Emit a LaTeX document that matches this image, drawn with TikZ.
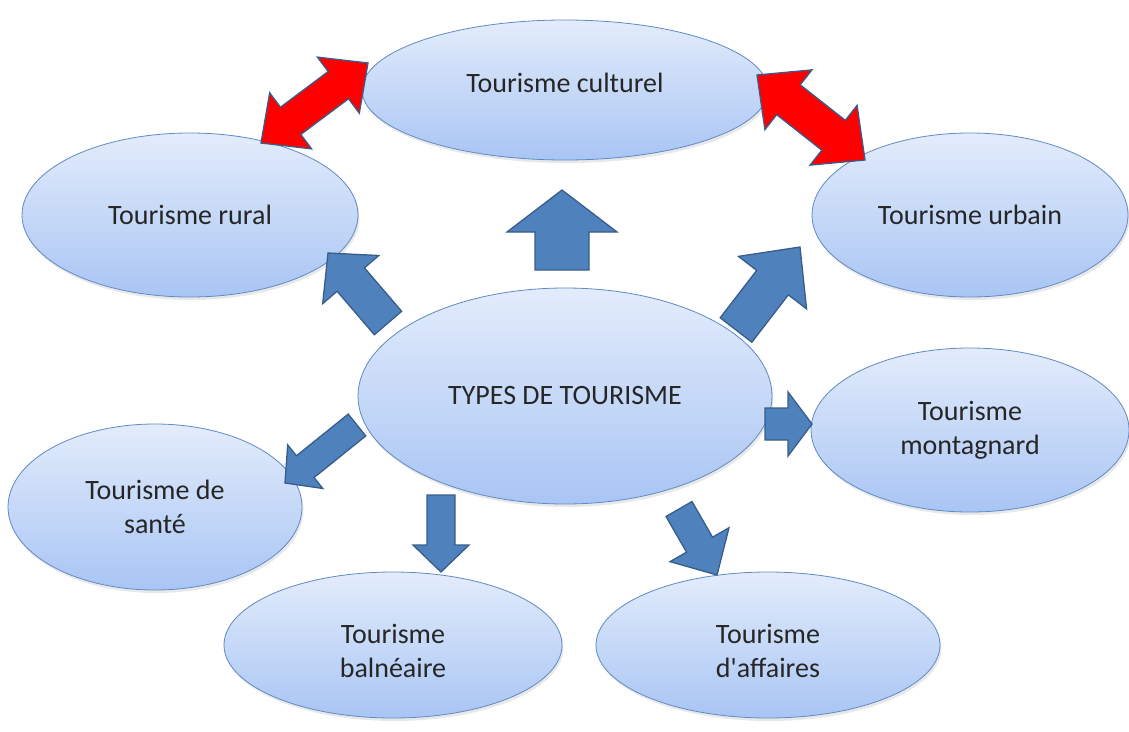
\documentclass[tikz,border=0pt]{standalone}
\usepackage{fontspec}
\setmainfont{Carlito}[Ligatures=TeXOff]
\usetikzlibrary{calc,shapes.geometric,shadows}
\definecolor{ovaltop}{HTML}{E3ECFB}
\definecolor{ovalbot}{HTML}{A9C5F4}
\definecolor{ovalline}{HTML}{5F8AC4}
\definecolor{arrowblue}{HTML}{4F81BD}
\definecolor{arrowline}{HTML}{385D8A}
\definecolor{textgrey}{HTML}{262626}
\tikzset{oval/.style={ellipse, draw=ovalline, line width=0.8pt, top color=ovaltop, bottom color=ovalbot,
    inner sep=0pt, align=center, text=textgrey, font=\fontsize{28}{34}\selectfont,
    drop shadow={opacity=0.18, shadow xshift=1.5pt, shadow yshift=-3pt}},
  bluearrow/.style={fill=arrowblue, draw=arrowline, line width=1.3pt},
  redarrow/.style={fill=red, draw=arrowline, line width=1.3pt}}
% style, tail, tip, shaft half width, head half width, head length
\newcommand{\blockarrow}[6]{%
  \coordinate (hb) at ($(#3)!#6!(#2)$);
  \draw[#1] ($(#2)!#4!90:(#3)$) -- ($(hb)!#4!90:(#3)$) -- ($(hb)!#5!90:(#3)$) -- (#3)
    -- ($(hb)!#5!-90:(#3)$) -- ($(hb)!#4!-90:(#3)$) -- ($(#2)!#4!-90:(#3)$) -- cycle;}
% style, end a, end b, shaft half width, head half width, head length
\newcommand{\doublearrow}[6]{%
  \coordinate (ha) at ($(#2)!#6!(#3)$);
  \coordinate (hb) at ($(#3)!#6!(#2)$);
  \draw[#1] (#2) -- ($(ha)!#5!90:(#3)$) -- ($(ha)!#4!90:(#3)$) -- ($(hb)!#4!-90:(#2)$)
    -- ($(hb)!#5!-90:(#2)$) -- (#3) -- ($(hb)!#5!90:(#2)$) -- ($(hb)!#4!90:(#2)$)
    -- ($(ha)!#4!-90:(#3)$) -- ($(ha)!#5!-90:(#3)$) -- cycle;}

\begin{document}
\begin{tikzpicture}[x=1pt, y=-1pt]
  \useasboundingbox (0,0) rectangle (1129,731);
  % ovals
  \node[oval, minimum width=406pt, minimum height=140pt, text depth=14pt] (culturel) at (565,90) {Tourisme culturel};
  \node[oval, minimum width=336pt, minimum height=164pt] (rural) at (190,215) {Tourisme rural};
  \node[oval, minimum width=316pt, minimum height=164pt] (urbain) at (970,215) {Tourisme urbain};
  \node[oval, minimum width=414pt, minimum height=216pt] (types) at (565,396) {TYPES DE TOURISME};
  \node[oval, minimum width=318pt, minimum height=164pt] (montagnard) at (970,430) {Tourisme\\montagnard};
  \node[oval, minimum width=294pt, minimum height=166pt] (sante) at (155,507) {Tourisme de\\santé};
  \node[oval, minimum width=338pt, minimum height=146pt, text height=66pt] (balneaire) at (393,645) {Tourisme\\balnéaire};
  \node[oval, minimum width=344pt, minimum height=146pt, text height=66pt] (affaires) at (768,645) {Tourisme\\d'affaires};
  % arrow ends
  \coordinate (culturel-s) at (562,270);  \coordinate (culturel-e) at (562,190);
  \coordinate (rural-s) at (388,323);     \coordinate (rural-e) at (328,253);
  \coordinate (urbain-s) at (736,330);    \coordinate (urbain-e) at (800,247);
  \coordinate (montagnard-s) at (765,424); \coordinate (montagnard-e) at (812,424);
  \coordinate (sante-s) at (357,425);     \coordinate (sante-e) at (285,483);
  \coordinate (balneaire-s) at (441,495); \coordinate (balneaire-e) at (441,572);
  \coordinate (affaires-s) at (679,509);  \coordinate (affaires-e) at (717,575);
  \coordinate (rc-a) at (261,143);        \coordinate (rc-b) at (368,63);
  \coordinate (cu-a) at (757,75);         \coordinate (cu-b) at (865,160);
  % blue arrows
  \blockarrow{bluearrow}{culturel-s}{culturel-e}{27pt}{55pt}{42pt}
  \blockarrow{bluearrow}{rural-s}{rural-e}{18pt}{37pt}{35pt}
  \blockarrow{bluearrow}{urbain-s}{urbain-e}{20pt}{43pt}{45pt}
  \blockarrow{bluearrow}{montagnard-s}{montagnard-e}{16pt}{32pt}{24pt}
  \blockarrow{bluearrow}{sante-s}{sante-e}{14pt}{28pt}{26pt}
  \blockarrow{bluearrow}{balneaire-s}{balneaire-e}{14pt}{28pt}{27pt}
  \blockarrow{bluearrow}{affaires-s}{affaires-e}{15pt}{34pt}{35pt}
  % red double arrows
  \doublearrow{redarrow}{rc-a}{rc-b}{17pt}{35pt}{37pt}
  \doublearrow{redarrow}{cu-a}{cu-b}{19pt}{38pt}{40pt}
\end{tikzpicture}
\end{document}
